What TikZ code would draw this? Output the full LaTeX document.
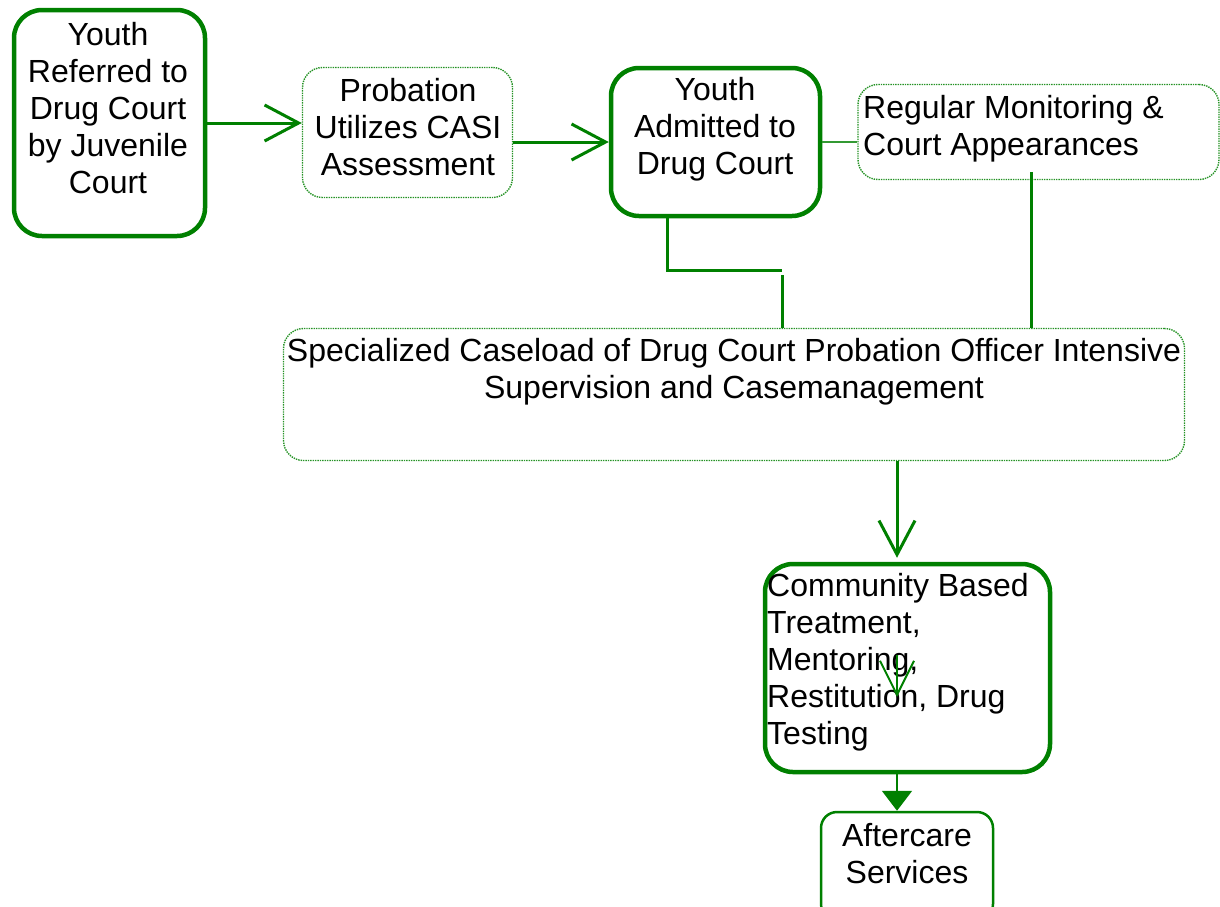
\documentclass[tikz,border=0pt]{standalone}
\usepackage{fontspec}
\setmainfont{Liberation Sans}
\usetikzlibrary{arrows.meta}
\definecolor{grn}{RGB}{0,128,0}

\begin{document}
\begin{tikzpicture}[
      x=1pt, y=-1pt,
      box_thick/.style={draw=grn, line width=4.5pt, rounded corners=28pt, inner sep=0pt},
      box_dot/.style={draw=grn!85, densely dotted, line width=1.4pt, rounded corners=20pt, inner sep=0pt},
      box_plain/.style={draw=grn, line width=2.5pt, rounded corners=16pt, inner sep=0pt},
      txt/.style={font=\fontsize{32}{37}\selectfont, align=center, inner sep=0pt},
      link/.style={draw=grn, line width=3pt},
      barb/.style={link, -{Straight Barb[length=34pt, width=36pt]}}
    ]
      \useasboundingbox (0,0) rectangle (1220,906);

      % boxes
      \node[box_thick, minimum width=191pt, minimum height=226pt] (referred) at (109.5,123) {};
      \node[box_dot, minimum width=210pt, minimum height=130pt] (casi) at (407.5,132.5) {};
      \node[box_thick, minimum width=209pt, minimum height=148pt] (admitted) at (715.5,142) {};
      \node[box_dot, minimum width=361pt, minimum height=95pt] (monitoring) at (1038.5,132) {};
      \node[box_dot, minimum width=901pt, minimum height=132pt] (supervision) at (734,394.5) {};
      \node[box_thick, minimum width=285pt, minimum height=208pt] (cbt) at (907.5,668) {};
      \node[box_plain, minimum width=172pt, minimum height=108pt] (aftercare) at (907,866) {};

      % texts
      \node[txt] (referred-t) at (108,108) {Youth\\Referred to\\Drug Court\\by Juvenile\\Court};
      \node[txt] (casi-t) at (408,127) {Probation\\Utilizes CASI\\Assessment};
      \node[txt] (admitted-t) at (715,129) {Youth\\Admitted to\\Drug Court};
      \node[txt, anchor=west, align=left] (monitoring-t) at (863,129) {Regular Monitoring \&\\Court Appearances};
      \node[txt] (supervision-t) at (734,372) {Specialized Caseload of Drug Court Probation Officer Intensive\\Supervision and Casemanagement};
      \node[txt, anchor=west, align=left] (cbt-t) at (767,662) {Community Based\\Treatment,\\Mentoring,\\Restitution, Drug\\Testing};
      \node[txt] (aftercare-t) at (907,854) {Aftercare\\Services};

      % connector points
      \coordinate (bendA) at (667,270);
      \coordinate (bendB) at (782,270);
      \coordinate (bendC) at (782,275);
      \coordinate (tapM) at (1031,172);
      \coordinate (tapS) at (897,0);
      \coordinate (strayA) at (897,655);
      \coordinate (strayB) at (897,697);

      \draw[barb] (referred.east) -- (referred.east -| casi.west);
      \draw[barb] (admitted.west -| casi.east) -- (admitted.west);
      \draw[draw=grn!80, line width=1.5pt] (admitted.east) -- (admitted.east -| monitoring.west);
      \draw[link] (admitted.south -| bendA) -- (bendA) -- (bendB);
      \draw[link] (bendC) -- (bendC |- supervision.north);
      \draw[link] (tapM) -- (tapM |- supervision.north);
      \draw[barb] (supervision.south -| tapS) -- ([yshift=4pt]cbt.north -| tapS);
      \draw[draw=grn, line width=2pt, -{Straight Barb[length=34pt, width=34pt]}] (strayA) -- (strayB);
      \draw[draw=grn, line width=2pt, -{Triangle[length=20pt, width=30pt]}] (cbt.south -| tapS) -- (aftercare.north -| tapS);
    \end{tikzpicture}
\end{document}
